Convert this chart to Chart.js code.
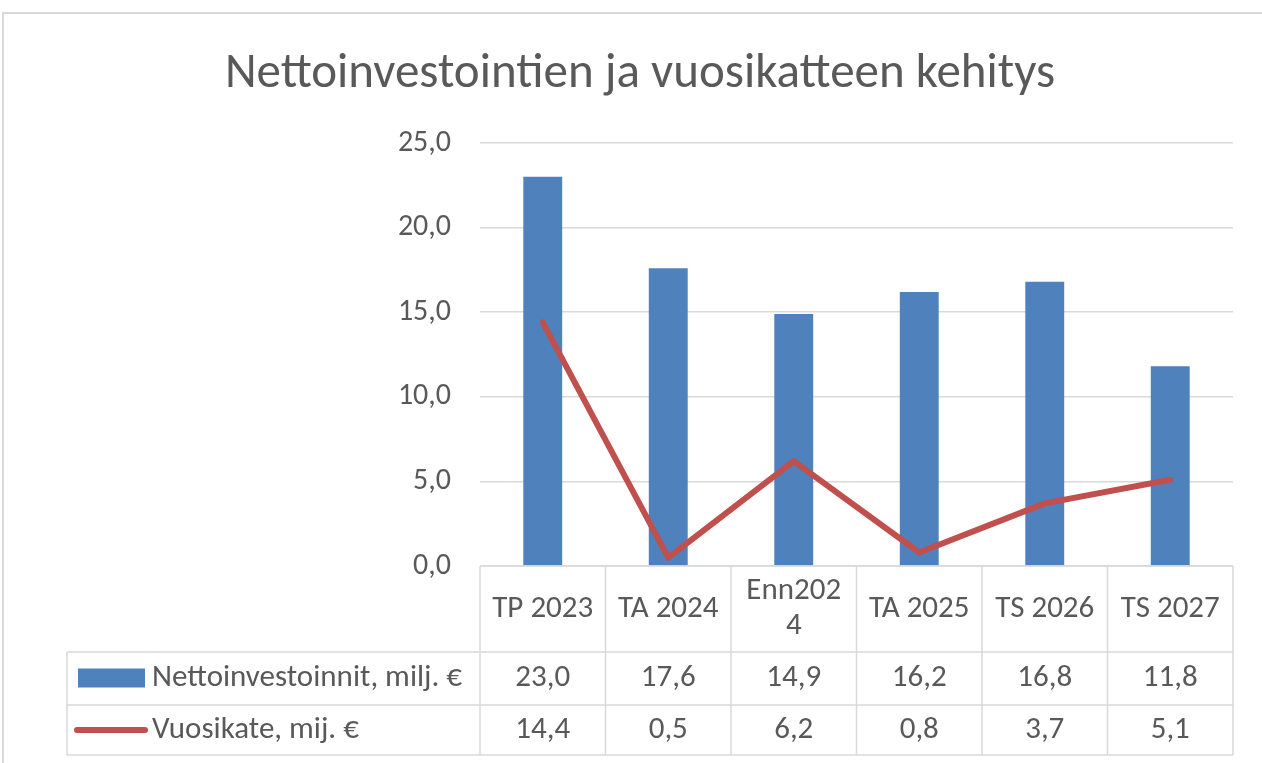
<!DOCTYPE html>
<html>
<head>
<meta charset="utf-8">
<script src="https://cdn.jsdelivr.net/npm/chart.js@4/dist/chart.umd.min.js"></script>
<style>
body { margin: 0; background: #fff; }
</style>
</head>
<body>
<canvas id="chart" width="1262" height="763"></canvas>
<script>
'use strict';

var chartTitle = 'Nettoinvestointien ja vuosikatteen kehitys';
var categories = ['TP 2023', 'TA 2024', ['Enn202', '4'], 'TA 2025', 'TS 2026', 'TS 2027'];
var nettoinvestoinnit = [23.0, 17.6, 14.9, 16.2, 16.8, 11.8];
var vuosikate = [14.4, 0.5, 6.2, 0.8, 3.7, 5.1];
var seriesNames = ['Nettoinvestoinnit, milj. €', 'Vuosikate, mij. €'];
var yTicks = [0, 5, 10, 15, 20, 25];

var BLUE = '#4F81BD';
var RED = '#C0504D';
var GRID = '#D9D9D9';
var TEXT = '#595959';
var FONT = "Carlito, 'Open Sans', sans-serif";

var fmt = function(v) {
    return v.toFixed(1).replace('.', ',');
};

// frame, title and the data table under the plot
var tablePlugin = {
    id: 'dataTable',
    beforeDraw: function(chart) {
        var c = chart.ctx;
        c.save();
        c.strokeStyle = GRID;
        c.lineWidth = 2;
        c.beginPath();
        c.moveTo(3, chart.height);
        c.lineTo(3, 13);
        c.lineTo(chart.width, 13);
        c.stroke();

        c.fillStyle = TEXT;
        c.font = '49px ' + FONT;
        c.textAlign = 'center';
        c.textBaseline = 'alphabetic';
        c.fillText(chartTitle, 640, 87);
        c.restore();
    },
    afterDraw: function(chart) {
        var c = chart.ctx;
        var area = chart.chartArea;
        var xs = chart.scales.x;
        var n = categories.length;
        var w = area.width / n;
        var top = area.bottom;
        var r1 = top + 86, r2 = r1 + 53, r3 = r2 + 50;
        var legendLeft = 67;

        c.save();
        c.strokeStyle = GRID;
        c.lineWidth = 1.5;
        c.beginPath();
        c.moveTo(area.left, top); c.lineTo(area.right, top);
        [r1, r2, r3].forEach(function(y) {
            c.moveTo(legendLeft, y); c.lineTo(area.right, y);
        });
        for (var i = 0; i <= n; i++) {
            var bx = area.left + i * w;
            c.moveTo(bx, top); c.lineTo(bx, r3);
        }
        c.moveTo(legendLeft, r1); c.lineTo(legendLeft, r3);
        c.stroke();

        c.fillStyle = TEXT;
        c.font = '31px ' + FONT;
        c.textAlign = 'center';
        c.textBaseline = 'middle';
        categories.forEach(function(lab, i) {
            var cx = xs.getPixelForValue(i);
            var lines = Array.isArray(lab) ? lab : [lab];
            var lh = 35;
            var y0 = (top + r1) / 2 - (lines.length - 1) * lh / 2;
            lines.forEach(function(t, k) {
                c.fillText(t, cx, y0 + k * lh);
            });
            c.fillText(fmt(nettoinvestoinnit[i]), cx, (r1 + r2) / 2);
            c.fillText(fmt(vuosikate[i]), cx, (r2 + r3) / 2);
        });

        // legend keys
        var m1 = (r1 + r2) / 2, m2 = (r2 + r3) / 2;
        c.fillStyle = BLUE;
        c.fillRect(78, m1 - 10, 67, 19);
        c.strokeStyle = RED;
        c.lineWidth = 6;
        c.lineCap = 'round';
        c.beginPath();
        c.moveTo(77, m2); c.lineTo(145, m2);
        c.stroke();

        c.fillStyle = TEXT;
        c.textAlign = 'left';
        c.fillText(seriesNames[0], 152, m1);
        c.fillText(seriesNames[1], 152, m2);
        c.restore();
    }
};

var ctx = document.getElementById('chart').getContext('2d');
var chart = new Chart(ctx, {
    type: 'bar',
    data: {
        labels: categories,
        datasets: [
            {
                type: 'line',
                label: seriesNames[1],
                data: vuosikate,
                borderColor: RED,
                borderWidth: 6,
                borderCapStyle: 'round',
                borderJoinStyle: 'round',
                pointRadius: 0,
                tension: 0,
                fill: false,
                order: 1
            },
            {
                label: seriesNames[0],
                data: nettoinvestoinnit,
                backgroundColor: BLUE,
                barPercentage: 0.31,
                categoryPercentage: 1,
                order: 2
            }
        ]
    },
    options: {
        responsive: false,
        animation: false,
        layout: { padding: { left: 0, right: 29, top: 143, bottom: 197 } },
        plugins: {
            legend: { display: false },
            tooltip: { enabled: false },
            title: { display: false }
        },
        scales: {
            x: { display: false },
            y: {
                min: yTicks[0],
                max: yTicks[yTicks.length - 1],
                afterBuildTicks: function(scale) {
                    scale.ticks = yTicks.map(function(v) { return { value: v }; });
                },
                afterFit: function(scale) { scale.width = 480; },
                border: { display: false },
                grid: { color: GRID, lineWidth: 1.5, drawTicks: false },
                ticks: {
                    padding: 29,
                    color: TEXT,
                    font: { family: FONT, size: 30 },
                    callback: function(v) { return fmt(v); }
                }
            }
        }
    },
    plugins: [tablePlugin]
});
</script>
</body>
</html>
